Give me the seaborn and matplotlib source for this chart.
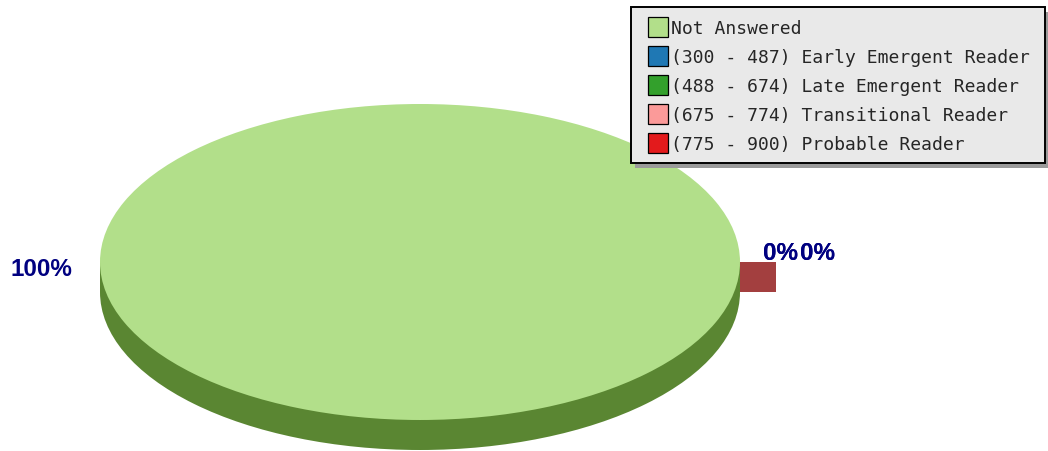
import numpy as np
import matplotlib
matplotlib.use("Agg")
import matplotlib.pyplot as plt
from matplotlib.patches import Ellipse, Rectangle
from matplotlib.lines import Line2D
import seaborn as sns

# data
categories = ["Not Answered",
              "(300 - 487) Early Emergent Reader",
              "(488 - 674) Late Emergent Reader",
              "(675 - 774) Transitional Reader",
              "(775 - 900) Probable Reader"]
counts = [100, 0, 0, 0, 0]

sns.set_theme(style="white")
paired = sns.color_palette("Paired")
colors = [paired[2], paired[1], paired[3], paired[4], paired[5]]
side_green = "#5a8632"
side_red = "#a33f3f"

values = np.array(counts, dtype=float)
pct = values / values.sum() * 100

W, H = 1048, 451
fig = plt.figure(figsize=(W / 100, H / 100), dpi=100)
ax = fig.add_axes([0, 0, 1, 1])

# pie in units of the ellipse radii (320 px wide, 158 px tall)
rx, ry = 320.0, 158.0
cx, cy = 420.0, 262.0
depth = 30.0 / ry

# side of the 3D pie
ax.add_patch(Ellipse((0, -depth), 2, 2, color=side_green, zorder=1, lw=0))
ax.add_patch(Rectangle((-1, -depth), 2, depth, color=side_green, zorder=1, lw=0))
ax.add_patch(Rectangle((1, -depth), 36 / rx, depth, color=side_red, zorder=1, lw=0))

wedges, _ = ax.pie(values, colors=colors, startangle=0, counterclock=True,
                   radius=1, center=(0, 0),
                   wedgeprops=dict(linewidth=0, zorder=2))

ax.set_aspect("auto")
ax.set_xlim((0 - cx) / rx, (W - cx) / rx)
ax.set_ylim((cy - H) / ry, (cy - 0) / ry)
ax.axis("off")

# percentage labels
lab_kw = dict(color="navy", fontsize=17.4, fontweight="bold",
              family="Liberation Sans", va="center", ha="left")
ax.text((10 - cx) / rx, (cy - 269) / ry, f"{pct[0]:.0f}%", **lab_kw)
for i, p in enumerate(pct[1:]):
    xpix = 763 if i % 2 == 0 else 800
    ax.text((xpix - cx) / rx, (cy - 254) / ry, f"{p:.0f}%", **lab_kw)

# legend box with shadow (pixel positions)
def fx(x):
    return x / W

def fy(y):
    return 1 - y / H

bx0, by0, bx1, by1 = 631, 7, 1045, 163
fig.add_artist(Rectangle((fx(bx0 + 4), fy(by1 + 5)), fx(bx1 - bx0), (by1 - by0) / H,
                         transform=fig.transFigure, facecolor="#9a9a9a",
                         edgecolor="none", zorder=3))
fig.add_artist(Rectangle((fx(bx0), fy(by1)), fx(bx1 - bx0), (by1 - by0) / H,
                         transform=fig.transFigure, facecolor="#e9e9e9",
                         edgecolor="black", linewidth=1.4, zorder=4))

handles = [Line2D([], [], linestyle="none", marker="s", markersize=13.8,
                  markerfacecolor=c, markeredgecolor="black", markeredgewidth=0.9)
           for c in colors]
leg = fig.legend(handles, categories, loc="upper left",
                 bbox_to_anchor=(fx(640.5), fy(19.5)),
                 bbox_transform=fig.transFigure, borderaxespad=0,
                 prop={"family": "DejaVu Sans Mono", "size": 13.0},
                 handlelength=1.95, handletextpad=-0.25,
                 labelspacing=0.61, borderpad=0, frameon=False)
leg.set_zorder(5)

fig.savefig("out.png", dpi=100)
